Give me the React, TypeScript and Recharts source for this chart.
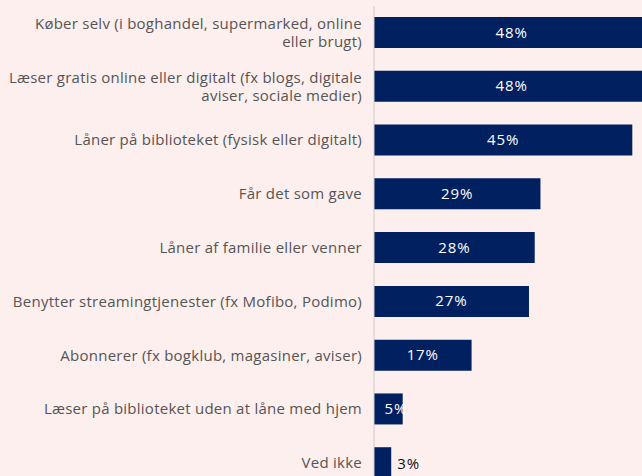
import { BarChart, Bar, XAxis, YAxis, LabelList } from 'recharts';

const categories = [
  'Køber selv (i boghandel, supermarked, online\neller brugt)',
  'Læser gratis online eller digitalt (fx blogs, digitale\naviser, sociale medier)',
  'Låner på biblioteket (fysisk eller digitalt)',
  'Får det som gave',
  'Låner af familie eller venner',
  'Benytter streamingtjenester (fx Mofibo, Podimo)',
  'Abonnerer (fx bogklub, magasiner, aviser)',
  'Læser på biblioteket uden at låne med hjem',
  'Ved ikke',
];
const shares = [48, 48, 45, 29, 28, 27, 17, 5, 3];

const data = categories.map((name, i) => ({ name, value: shares[i] }));

const FONT = '"Open Sans", sans-serif';

// kategoritekst, evt. på to linjer
function CategoryTick(props: any) {
  const { x, y, payload } = props;
  const lines: string[] = String(payload.value).split('\n');
  const lineH = 18;
  const top = y - ((lines.length - 1) * lineH) / 2;
  return (
    <text
      x={x - 4}
      y={top}
      textAnchor="end"
      fill="#555555"
      fontSize={15}
      letterSpacing={0.25}
      fontFamily={FONT}
    >
      {lines.map((l, i) => (
        <tspan key={i} x={x - 4} dy={i === 0 ? 5 : lineH}>
          {l}
        </tspan>
      ))}
    </text>
  );
}

// procent i baren, eller udenfor når baren er for kort
function ValueLabel(props: any) {
  const { x, y, width, height, value } = props;
  const cy = y + height / 2 + 5;
  if (width < 25) {
    return (
      <text
        x={x + width + 6}
        y={cy + 1}
        fill="#111111"
        fontSize={15}
        letterSpacing={0.9}
        fontFamily={FONT}
      >
        {value}%
      </text>
    );
  }
  const cx = Math.max(x + width / 2, x + 22);
  return (
    <text
      x={cx}
      y={cy}
      textAnchor="middle"
      fill="#ffffff"
      fontSize={15}
      letterSpacing={0.9}
      fontFamily={FONT}
    >
      {value}%
    </text>
  );
}

export default function App() {
  return (
    <div
      style={{
        position: 'fixed',
        top: 0,
        left: 0,
        width: 642,
        height: 476,
        overflow: 'hidden',
        background: '#fdefed',
      }}
    >
      <BarChart
        width={661}
        height={490}
        data={data}
        layout="vertical"
        margin={{ top: 6, right: 0, bottom: 0, left: 0 }}
      >
        <XAxis type="number" domain={[0, 50]} hide />
        <YAxis
          type="category"
          dataKey="name"
          width={374}
          tick={<CategoryTick />}
          tickLine={false}
          axisLine={{ stroke: '#cccccc' }}
          interval={0}
        />
        <Bar dataKey="value" fill="#002060" barSize={31} isAnimationActive={false}>
          <LabelList dataKey="value" content={<ValueLabel />} />
        </Bar>
      </BarChart>
    </div>
  );
}
